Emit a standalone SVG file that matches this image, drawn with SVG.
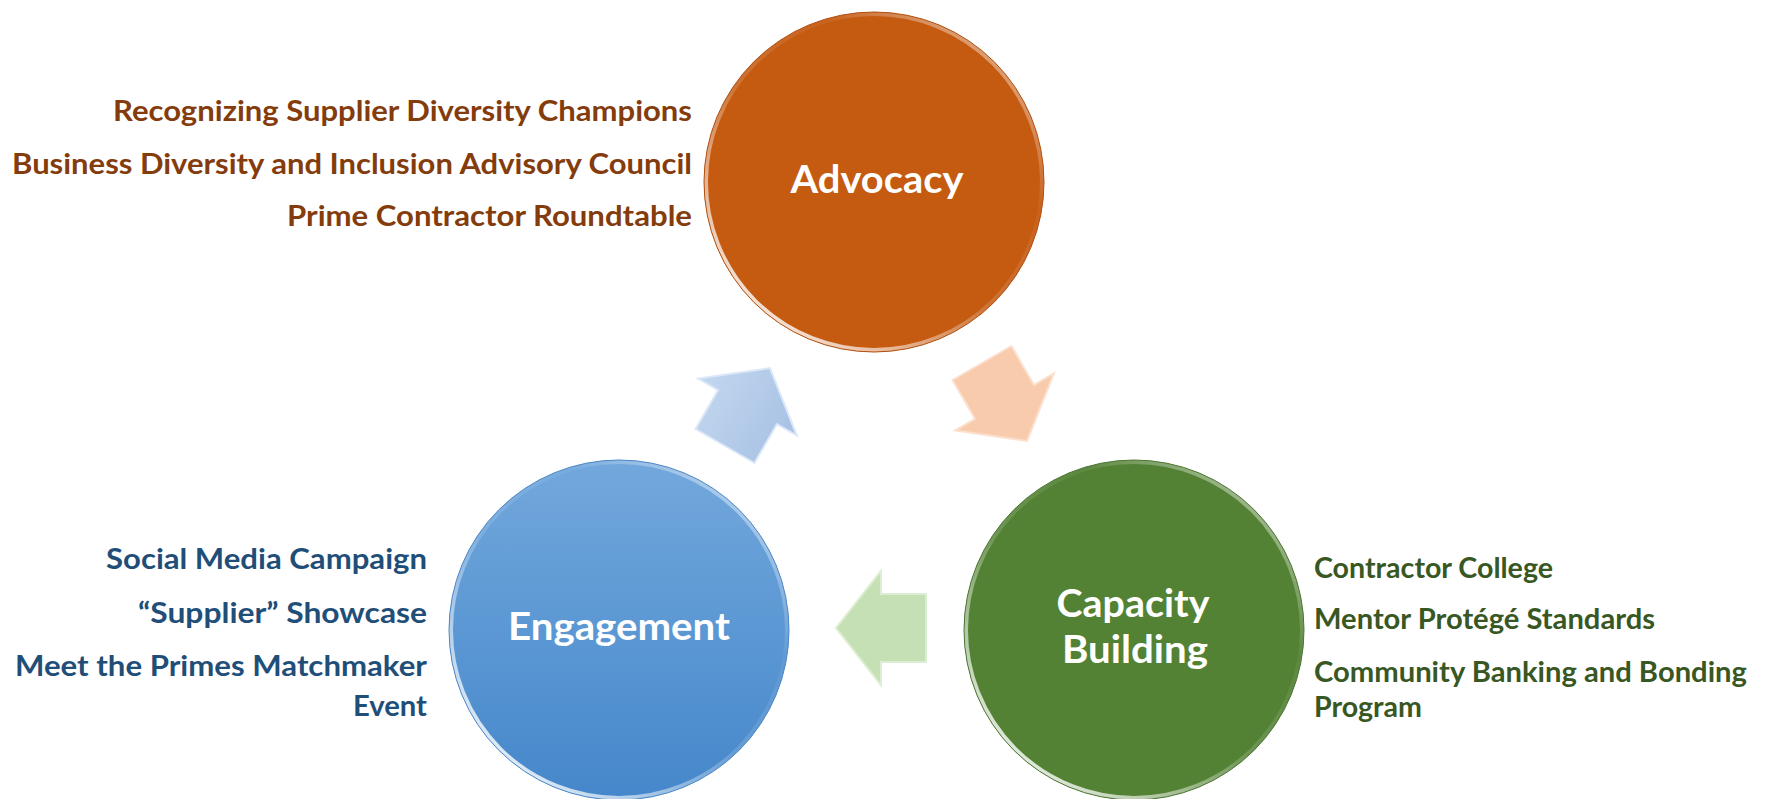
<svg xmlns="http://www.w3.org/2000/svg" width="1769" height="799" viewBox="0 0 1769 799">
<defs>
<style>
.lbl{font-family:"Lato","Open Sans","Liberation Sans",sans-serif;font-weight:700;font-size:39px;fill:#FFFFFF;text-anchor:middle}
.side{font-family:"Lato","Open Sans","Liberation Sans",sans-serif;font-weight:700;font-size:29px}
.adv{fill:#843C0C;text-anchor:end}
.eng{fill:#1F4E79;text-anchor:end}
.cap{fill:#385723;text-anchor:start}
.rim{fill:none;stroke:url(#rimG);stroke-width:4}
.arrow{stroke-width:2;stroke-linejoin:miter}
</style>
<linearGradient id="blueG" x1="0" y1="0" x2="0" y2="1">
<stop offset="0" stop-color="#72A8DC"/>
<stop offset="1" stop-color="#4587CB"/>
</linearGradient>
<linearGradient id="rimG" x1="0.15" y1="0.9" x2="0.85" y2="0.1">
<stop offset="0" stop-color="#FFFFFF" stop-opacity="0.85"/>
<stop offset="0.45" stop-color="#FFFFFF" stop-opacity="0.15"/>
<stop offset="0.75" stop-color="#FFFFFF" stop-opacity="0.05"/>
<stop offset="1" stop-color="#FFFFFF" stop-opacity="0.45"/>
</linearGradient>
<linearGradient id="blueA" x1="0" y1="0" x2="0" y2="1">
<stop offset="0" stop-color="#C3D7EF"/>
<stop offset="1" stop-color="#A7C1E4"/>
</linearGradient>
<polygon id="arr" points="0,-34 45,-34 45,-57 90,0 45,57 45,34 0,34"/>
</defs>
<rect width="1769" height="799" fill="#FFFFFF"/>

<g id="connectors">
<g id="arrow-engagement-advocacy" transform="translate(725,446) rotate(-60)">
<use href="#arr" fill="url(#blueA)" stroke="#DCE8F7" class="arrow"/>
</g>
<g id="arrow-advocacy-capacity" transform="translate(982,363) rotate(60)">
<use href="#arr" fill="#F8CBAD" stroke="#FBE0CD" class="arrow"/>
</g>
<g id="arrow-capacity-engagement" transform="translate(926,628) rotate(180)">
<use href="#arr" fill="#C5E0B4" stroke="#DDEFD2" class="arrow"/>
</g>
</g>

<g id="advocacy">
<circle cx="874" cy="182" r="170" fill="#C55A11"/>
<circle cx="874" cy="182" r="168" class="rim"/>
<circle cx="874" cy="182" r="170" fill="none" stroke="#B04E0D" stroke-width="1"/>
<text class="lbl" x="877" y="193" textLength="173" lengthAdjust="spacingAndGlyphs">Advocacy</text>
</g>

<g id="advocacy-items">
<text class="side adv" x="692" y="121" textLength="579" lengthAdjust="spacingAndGlyphs">Recognizing Supplier Diversity Champions</text>
<text class="side adv" x="692" y="174" textLength="680" lengthAdjust="spacingAndGlyphs">Business Diversity and Inclusion Advisory Council</text>
<text class="side adv" x="692" y="226" textLength="405" lengthAdjust="spacingAndGlyphs">Prime Contractor Roundtable</text>
</g>

<g id="engagement">
<circle cx="619" cy="630" r="170" fill="url(#blueG)"/>
<circle cx="619" cy="630" r="168" class="rim"/>
<circle cx="619" cy="630" r="170" fill="none" stroke="#4A86C5" stroke-width="1"/>
<text class="lbl" x="619" y="640" textLength="222" lengthAdjust="spacingAndGlyphs">Engagement</text>
</g>

<g id="engagement-items">
<text class="side eng" x="427" y="569" textLength="321" lengthAdjust="spacingAndGlyphs">Social Media Campaign</text>
<text class="side eng" x="427" y="623" textLength="289" lengthAdjust="spacingAndGlyphs">“Supplier” Showcase</text>
<text class="side eng" x="427" y="676" textLength="412" lengthAdjust="spacingAndGlyphs">Meet the Primes Matchmaker</text>
<text class="side eng" x="427" y="716" textLength="74" lengthAdjust="spacingAndGlyphs">Event</text>
</g>

<g id="capacity-building">
<circle cx="1134" cy="630" r="170" fill="#548235"/>
<circle cx="1134" cy="630" r="168" class="rim"/>
<circle cx="1134" cy="630" r="170" fill="none" stroke="#4A7530" stroke-width="1"/>
<text class="lbl" x="1133" y="617" textLength="153" lengthAdjust="spacingAndGlyphs">Capacity</text>
<text class="lbl" x="1135" y="663" textLength="146" lengthAdjust="spacingAndGlyphs">Building</text>
</g>

<g id="capacity-items">
<text class="side cap" x="1314" y="578" textLength="239" lengthAdjust="spacingAndGlyphs">Contractor College</text>
<text class="side cap" x="1314" y="629" textLength="341" lengthAdjust="spacingAndGlyphs">Mentor Protégé Standards</text>
<text class="side cap" x="1314" y="682" textLength="433" lengthAdjust="spacingAndGlyphs">Community Banking and Bonding</text>
<text class="side cap" x="1314" y="717" textLength="108" lengthAdjust="spacingAndGlyphs">Program</text>
</g>
</svg>
